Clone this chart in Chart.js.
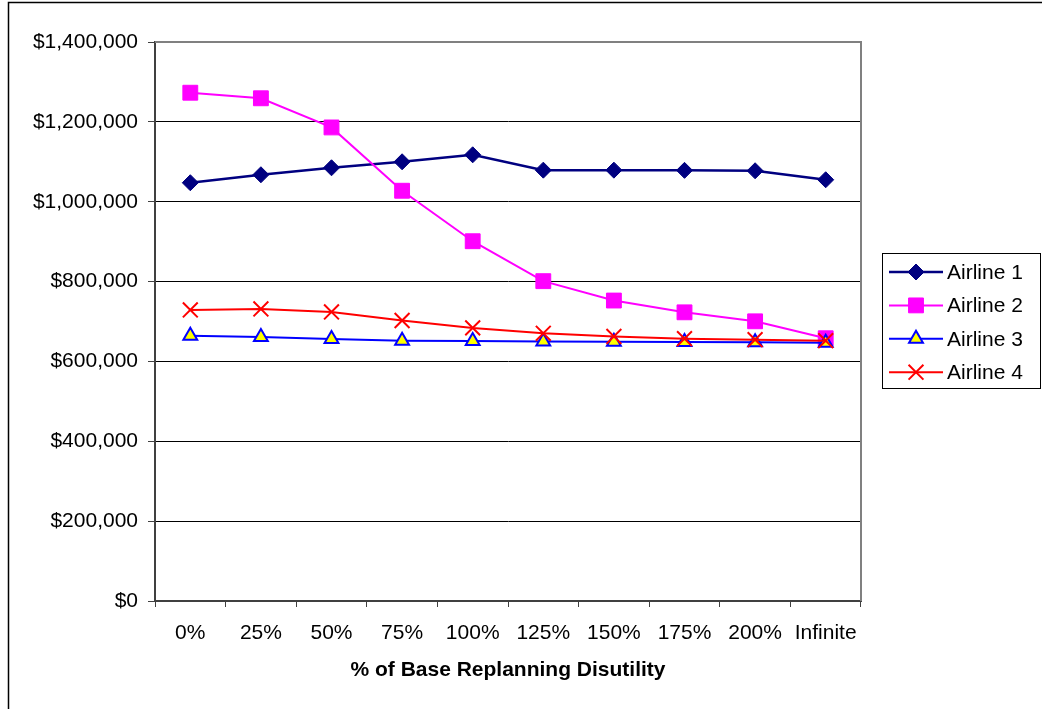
<!DOCTYPE html>
<html>
<head>
<meta charset="utf-8">
<script src="https://cdn.jsdelivr.net/npm/chart.js@4"></script>
<style>
  html, body { margin: 0; padding: 0; background: #fff; }
  #wrap { width: 1042px; height: 709px; position: relative; }
</style>
</head>
<body>
<div id="wrap"><canvas id="myChart" width="1042" height="709"></canvas></div>
<script>
// data
var categories = ['0%', '25%', '50%', '75%', '100%', '125%', '150%', '175%', '200%', 'Infinite'];
var seriesNames = ['Airline 1', 'Airline 2', 'Airline 3', 'Airline 4'];
var airline1 = [1047500, 1067500, 1085000, 1100000, 1117500, 1079000, 1079000, 1078500, 1077500, 1055000];
var airline2 = [1273000, 1259000, 1186000, 1027500, 901000, 801000, 752500, 723000, 700500, 658000];
var airline3 = [664000, 661000, 656000, 652000, 651000, 650000, 649500, 648500, 648000, 647000];
var airline4 = [729000, 731500, 724000, 702500, 684000, 670500, 662500, 657000, 654500, 652000];
var yTicks = [0, 200000, 400000, 600000, 800000, 1000000, 1200000, 1400000];

var FONT = "'Liberation Sans', Arial, sans-serif";
Chart.defaults.font.family = FONT;
Chart.defaults.color = '#000';

/*
# frame, plot border and legend box like the excel one
*/
var excelLook = {
  id: 'excelLook',
  beforeDraw: function(chart) {
    var ctx = chart.ctx;
    ctx.save();
    ctx.fillStyle = '#fff';
    ctx.fillRect(0, 0, chart.width, chart.height);
    ctx.strokeStyle = '#000';
    ctx.lineWidth = 1.5;
    ctx.beginPath();
    ctx.moveTo(8.5, chart.height + 5);
    ctx.lineTo(8.5, 2.5);
    ctx.lineTo(chart.width + 5, 2.5);
    ctx.stroke();
    ctx.restore();
  },
  beforeDatasetsDraw: function(chart) {
    var a = chart.chartArea, ctx = chart.ctx;
    ctx.save();
    ctx.strokeStyle = '#808080';
    ctx.lineWidth = 2;
    ctx.beginPath();
    ctx.moveTo(a.left, a.top);
    ctx.lineTo(a.right, a.top);
    ctx.lineTo(a.right, a.bottom);
    ctx.stroke();
    ctx.restore();
  },
  afterDraw: function(chart) {
    var ctx = chart.ctx;
    var bx = 882.5, by = 253.5, bw = 158, bh = 135;
    ctx.save();
    ctx.fillStyle = '#fff';
    ctx.fillRect(bx, by, bw, bh);
    ctx.strokeStyle = '#000';
    ctx.lineWidth = 1;
    ctx.strokeRect(bx, by, bw, bh);
    chart.data.datasets.forEach(function(ds, i) {
      var y = 272 + i * 33.4;
      ctx.strokeStyle = ds.borderColor;
      ctx.lineWidth = ds.borderWidth;
      ctx.beginPath();
      ctx.moveTo(889, y);
      ctx.lineTo(943, y);
      ctx.stroke();
      if (Chart.helpers && Chart.helpers.drawPoint) {
        ctx.fillStyle = ds.pointBackgroundColor;
        ctx.strokeStyle = ds.pointBorderColor;
        ctx.lineWidth = ds.pointBorderWidth;
        Chart.helpers.drawPoint(ctx, {
          pointStyle: ds.pointStyle,
          radius: ds.pointRadius,
          rotation: 0,
          borderWidth: ds.pointBorderWidth
        }, 916, y);
      }
      ctx.fillStyle = '#000';
      ctx.font = '21px ' + FONT;
      ctx.textBaseline = 'middle';
      ctx.textAlign = 'left';
      ctx.fillText(ds.label, 947, y + 1);
    });
    ctx.restore();
  }
};

var ctx = document.getElementById('myChart').getContext('2d');
var chart = new Chart(ctx, {
  type: 'line',
  data: {
    labels: categories,
    datasets: [{
      label: seriesNames[0],
      data: airline1,
      borderColor: '#000080',
      borderWidth: 2.5,
      pointStyle: 'rectRot',
      pointRadius: 8,
      pointHoverRadius: 8,
      pointBackgroundColor: '#000080',
      pointBorderColor: '#000080',
      pointBorderWidth: 1,
      order: 4
    }, {
      label: seriesNames[1],
      data: airline2,
      borderColor: '#FF00FF',
      borderWidth: 2,
      pointStyle: 'rect',
      pointRadius: 10.5,
      pointHoverRadius: 10.5,
      pointBackgroundColor: '#FF00FF',
      pointBorderColor: '#FF00FF',
      pointBorderWidth: 1,
      order: 3
    }, {
      label: seriesNames[2],
      data: airline3,
      borderColor: '#0000FF',
      borderWidth: 2,
      pointStyle: 'triangle',
      pointRadius: 8,
      pointHoverRadius: 8,
      pointBackgroundColor: '#FFFF00',
      pointBorderColor: '#0000FF',
      pointBorderWidth: 2,
      order: 2
    }, {
      label: seriesNames[3],
      data: airline4,
      borderColor: '#FF0000',
      borderWidth: 2,
      pointStyle: 'crossRot',
      pointRadius: 10.5,
      pointHoverRadius: 10.5,
      pointBackgroundColor: '#FF0000',
      pointBorderColor: '#FF0000',
      pointBorderWidth: 2,
      order: 1
    }]
  },
  options: {
    responsive: false,
    animation: false,
    devicePixelRatio: 1,
    layout: { padding: { left: 0, top: 42, right: 181, bottom: 0 } },
    plugins: {
      legend: { display: false },
      tooltip: { enabled: false }
    },
    scales: {
      x: {
        offset: true,
        grid: { offset: true, drawOnChartArea: false, tickLength: 6, tickColor: '#404040', tickWidth: 1 },
        border: { color: '#404040', width: 2 },
        ticks: { font: { size: 21 }, padding: 14, maxRotation: 0, autoSkip: false },
        title: { display: true, text: '% of Base Replanning Disutility', font: { size: 21, weight: 'bold' }, padding: { bottom: 26 } },
        afterFit: function(s) { s.height = 108; }
      },
      y: {
        min: 0,
        max: 1400000,
        afterBuildTicks: function(s) { s.ticks = yTicks.map(function(v) { return { value: v }; }); },
        grid: { color: '#000', lineWidth: 1, tickLength: 7, tickColor: '#404040' },
        border: { color: '#404040', width: 2 },
        ticks: {
          font: { size: 21 },
          padding: 10,
          callback: function(v) { return '$' + Number(v).toLocaleString('en-US'); }
        },
        afterFit: function(s) { s.width = 155; }
      }
    }
  },
  plugins: [excelLook]
});
</script>
</body>
</html>
